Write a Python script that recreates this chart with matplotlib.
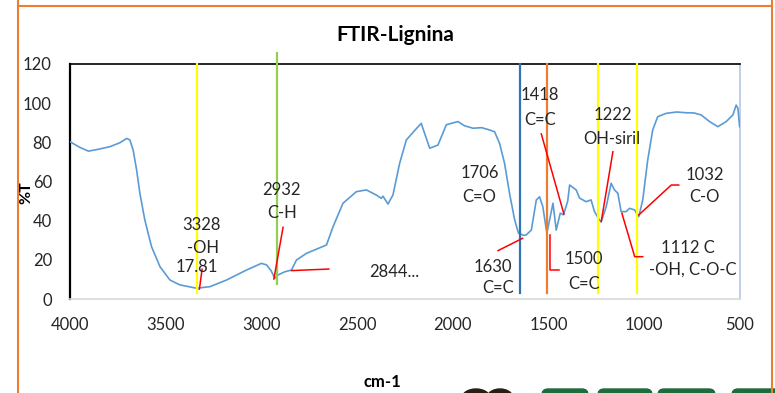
import matplotlib
matplotlib.use("Agg")
import matplotlib.pyplot as plt
from matplotlib.patches import FancyBboxPatch, Ellipse

plt.rcParams['font.family'] = ['Lato', 'DejaVu Sans']

# FTIR spectrum of lignin (wavenumber in cm-1, transmittance in %)
wavenumber = [4000, 3950, 3904, 3850, 3791, 3739, 3704, 3687, 3670, 3652, 3635,
              3609, 3574, 3530, 3478, 3426, 3339, 3269, 3182, 3078, 3000, 2973,
              2950, 2930, 2913, 2878, 2843, 2817, 2765, 2660, 2626, 2574, 2504,
              2452, 2400, 2374, 2365, 2339, 2313, 2278, 2243, 2200, 2165, 2156,
              2121, 2078, 2055, 2034, 1973, 1940, 1895, 1850, 1808, 1782, 1756,
              1730, 1704, 1677, 1657, 1630, 1617, 1590, 1564, 1547, 1530, 1509,
              1477, 1460, 1439, 1422, 1400, 1390, 1356, 1338, 1304, 1278, 1260,
              1234, 1225, 1199, 1173, 1156, 1138, 1121, 1095, 1077, 1051, 1029,
              1008, 982, 956, 930, 886, 830, 781, 740, 703, 659, 616, 572, 537,
              520, 511, 502]
transmittance = [80.3, 77.5, 75.5, 76.5, 77.8, 79.8, 82.0, 81.2, 76.0, 65.9, 54.0,
                 40.3, 26.7, 16.5, 9.7, 7.2, 5.5, 6.3, 9.7, 14.8, 18.2, 17.4,
                 14.5, 10.6, 12.3, 13.9, 14.8, 19.9, 23.3, 27.6, 36.9, 48.9, 54.8,
                 55.7, 53.1, 51.4, 52.5, 48.5, 53.1, 69.3, 81.2, 86.0, 89.7, 87.0,
                 77.0, 78.6, 84.0, 89.0, 90.6, 88.5, 87.2, 87.5, 86.3, 85.4, 79.5,
                 69.3, 54.0, 40.3, 33.6, 32.5, 32.7, 35.2, 50.6, 52.2, 47.1, 33.6,
                 48.9, 35.2, 43.8, 43.0, 50.0, 58.2, 55.7, 51.5, 49.7, 50.6, 44.6,
                 40.3, 39.5, 47.1, 59.1, 55.7, 54.0, 44.6, 44.6, 46.3, 45.5, 42.0,
                 50.6, 71.0, 86.3, 93.1, 94.8, 95.5, 95.1, 95.0, 94.0, 90.6, 88.0, 90.6, 94.0,
                 99.0, 97.4, 88.0]

# band marker lines: (wavenumber, bottom, top, colour)
band_lines = [(3338, 3, 120, '#FFFF00'),
              (2921, 7.5, 125.5, '#92D050'),
              (1651, 3, 120, '#2E75B6'),
              (1510, 3, 120, '#ED7D31'),
              (1241, 3, 120, '#FFFF00'),
              (1037, 3, 120, '#FFFF00')]

# leader lines from the peaks to their labels
leaders = [([3324, 3310], [5, 15.2]),
           ([2935, 2887], [10.2, 36.6]),
           ([2843, 2648], [14.5, 15.3]),
           ([1764, 1636], [24.7, 31]),
           ([1538, 1420], [84.3, 43.4]),
           ([1491, 1491, 1446], [32.7, 14.8, 14.8]),
           ([1225, 1164], [39.5, 75.2]),
           ([1117, 1050, 1008], [43.8, 21.6, 21.6]),
           ([1029, 859, 820], [42.9, 58.2, 58.2])]

labels = [(3312, 37.8, '3328'), (3304, 25.9, '-OH'), (3339, 16.5, '17.81'),
          (2895, 55.7, '2932'), (2892, 43.8, 'C-H'), (2304, 13.9, '2844...'),
          (1860, 64.2, '1706'), (1860, 52.2, 'C=O'),
          (1791, 16.5, '1630'), (1764, 5.5, 'C=C'),
          (1547, 104.2, '1418'), (1547, 91.4, 'C=C'),
          (1317, 20.4, '1500'), (1317, 7.7, 'C=C'),
          (1164, 94.0, '1222'), (1170, 81.7, 'OH-siril'),
          (686, 63.3, '1032'), (686, 52.2, 'C-O'),
          (773, 25.9, '1112 C'), (747, 14.8, '-OH, C-O-C')]

fig = plt.figure(figsize=(7.75, 3.93), dpi=100)
ax = fig.add_axes([70 / 775, 94 / 393, 670 / 775, 235 / 393])

ax.plot(wavenumber, transmittance, color='#5B9BD5', lw=1.2, zorder=3)

for wn, lo, hi, col in band_lines:
    ax.plot([wn, wn], [lo, hi], color=col, lw=1.6, zorder=4, clip_on=False)

for xs, ys in leaders:
    ax.plot(xs, ys, color='#FF0000', lw=1.1, zorder=5)

for x, y, s in labels:
    ax.text(x, y, s, ha='center', va='center', fontsize=12, color='#262626', zorder=6)

ax.set_xlim(4000, 500)
ax.set_ylim(0, 120)
ax.set_xticks(range(4000, 499, -500))
ax.set_yticks(range(0, 121, 20))
ax.tick_params(length=0, labelsize=12, labelcolor='#262626')
ax.tick_params(axis='y', pad=13)
ax.tick_params(axis='x', pad=13)

ax.spines['top'].set_color('black')
ax.spines['top'].set_linewidth(1.2)
ax.spines['left'].set_color('black')
ax.spines['left'].set_linewidth(1.6)
ax.spines['right'].set_color('#B4C7E7')
ax.spines['right'].set_linewidth(1.2)
ax.spines['bottom'].set_color('#D9D9D9')
ax.spines['bottom'].set_linewidth(1.2)

fig.text(395 / 775, 1 - 35 / 393, 'FTIR-Lignina', ha='center', va='center',
         fontsize=15, fontweight='bold')
fig.text(26 / 775, 1 - 193 / 393, '%T', rotation=90, ha='center', va='center',
         fontsize=11.5, fontweight='bold')
fig.text(382 / 775, 1 - 382 / 393, 'cm-1', ha='center', va='center',
         fontsize=12, fontweight='bold')

# page frame and the logo peeking in at the bottom
frame = fig.add_axes([0, 0, 1, 1], zorder=-1)
frame.set_xlim(0, 775)
frame.set_ylim(393, 0)
frame.axis('off')
frame.plot([18, 18], [0, 393], color='#ED7D31', lw=1.5)
frame.plot([771.5, 771.5], [0, 393], color='#ED7D31', lw=1.5)
frame.plot([18, 771.5], [6, 6], color='#ED7D31', lw=1.5)
frame.add_patch(Ellipse((476, 398), 28, 18, color='#2B1D14'))
frame.add_patch(Ellipse((500, 398), 26, 18, color='#2B1D14'))
for x0, x1 in [(542, 588), (598, 652), (658, 715), (732, 790)]:
    frame.add_patch(FancyBboxPatch((x0, 389), x1 - x0, 20,
                                   boxstyle='round,pad=0,rounding_size=6',
                                   color='#1E6B3C'))

fig.savefig('out.png', dpi=100)
